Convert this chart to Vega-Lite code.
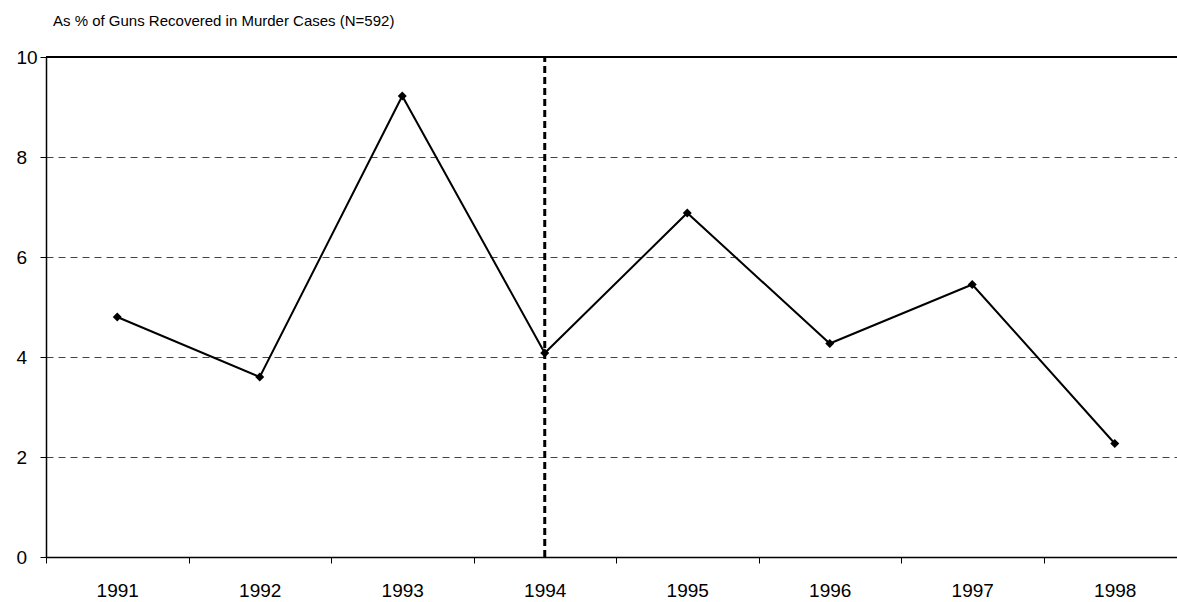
{
  "$schema": "https://vega.github.io/schema/vega-lite/v6.json",
  "width": 1131,
  "height": 500,
  "autosize": {"type": "none"},
  "padding": {"left": 46, "top": 57, "right": 0, "bottom": 45},
  "background": "white",
  "config": {
    "view": {"stroke": null},
    "font": "Liberation Sans"
  },
  "title": {
    "text": "As % of Guns Recovered in Murder Cases (N=592)",
    "anchor": "start",
    "frame": "group",
    "font": "Liberation Sans",
    "fontSize": 15,
    "fontWeight": "normal",
    "color": "black",
    "dx": 7,
    "offset": 19
  },
  "data": {
    "values": [
      {"year": "1991", "pct": 4.8},
      {"year": "1992", "pct": 3.6},
      {"year": "1993", "pct": 9.22},
      {"year": "1994", "pct": 4.08},
      {"year": "1995", "pct": 6.88},
      {"year": "1996", "pct": 4.27},
      {"year": "1997", "pct": 5.45},
      {"year": "1998", "pct": 2.27}
    ]
  },
  "layer": [
    {
      "mark": {"type": "line", "color": "black", "strokeWidth": 2},
      "encoding": {
        "x": {
          "field": "year",
          "type": "ordinal",
          "scale": {"range": [0, 1140], "paddingInner": 0, "paddingOuter": 0},
          "axis": {
            "title": null,
            "labelAngle": 0,
            "labelFont": "Liberation Sans",
            "labelFontSize": 19,
            "labelColor": "black",
            "labelPadding": 18,
            "tickBand": "extent",
            "tickSize": 6,
            "tickColor": "black",
            "domainColor": "black",
            "domainWidth": 1.5
          }
        },
        "y": {
          "field": "pct",
          "type": "quantitative",
          "scale": {"domain": [0, 10], "nice": false},
          "axis": {
            "title": null,
            "values": [0, 2, 4, 6, 8, 10],
            "labelFont": "Liberation Sans",
            "labelFontSize": 19,
            "labelColor": "black",
            "labelAlign": "left",
            "labelPadding": 24,
            "tickSize": 6,
            "tickColor": "black",
            "domainColor": "black",
            "domainWidth": 1.5,
            "grid": true,
            "gridColor": "#444444",
            "gridDash": [7, 5],
            "gridWidth": 1
          }
        }
      }
    },
    {
      "mark": {"type": "rule", "color": "black", "strokeWidth": 1.5},
      "encoding": {"y": {"datum": 10}}
    },
    {
      "transform": [{"filter": "datum.year == '1994'"}],
      "mark": {"type": "rule", "color": "black", "strokeWidth": 3, "strokeDash": [7, 4]},
      "encoding": {
        "x": {"field": "year", "type": "ordinal"},
        "y": {"datum": 0},
        "y2": {"datum": 10}
      }
    },
    {
      "mark": {"type": "point", "shape": "diamond", "filled": true, "color": "black", "size": 80, "opacity": 1},
      "encoding": {
        "x": {"field": "year", "type": "ordinal"},
        "y": {"field": "pct", "type": "quantitative"}
      }
    }
  ]
}
